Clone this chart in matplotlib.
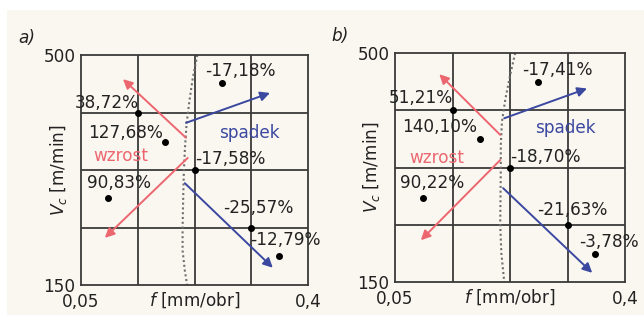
import matplotlib
matplotlib.use("Agg")
import matplotlib.pyplot as plt
from matplotlib.patches import Rectangle

# grid units: 4 columns (f 0,05 .. 0,4) x 4 rows (Vc 150 .. 500)
x_ticks = ["0,05", "0,4"]
y_ticks = ["150", "500"]

# panel a
a_px = [1.0, 1.48, 2.48, 2.0, 0.48, 3.0, 3.49]
a_py = [3.0, 2.49, 3.51, 2.0, 1.51, 1.0, 0.5]
a_labels = ["38,72%", "127,68%", "-17,18%", "-17,58%", "90,83%", "-25,57%", "-12,79%"]
a_curve_x = [2.05, 1.97, 1.91, 1.86, 1.83, 1.81, 1.80, 1.79, 1.79, 1.83, 1.87]
a_curve_y = [4.0, 3.6, 3.2, 2.8, 2.35, 1.9, 1.48, 1.0, 0.6, 0.25, 0.0]
a_red = [((1.85, 2.56), (0.74, 3.58)), ((1.88, 2.21), (0.42, 0.82))]
a_blue = [((1.85, 2.82), (3.33, 3.34)), ((1.83, 1.77), (3.38, 0.30))]

# panel b
b_px = [1.0, 1.48, 2.49, 2.0, 0.49, 3.0, 3.48]
b_py = [3.0, 2.5, 3.5, 2.0, 1.47, 1.0, 0.49]
b_labels = ["51,21%", "140,10%", "-17,41%", "-18,70%", "90,22%", "-21,63%", "-3,78%"]
b_curve_x = [2.09, 2.0, 1.92, 1.86, 1.84, 1.84, 1.83, 1.85, 1.9]
b_curve_y = [4.0, 3.6, 3.2, 2.8, 2.4, 2.0, 1.0, 0.5, 0.0]
b_red = [((1.83, 2.57), (0.77, 3.63)), ((1.83, 2.13), (0.45, 0.73))]
b_blue = [((1.90, 2.86), (3.34, 3.38)), ((1.88, 1.64), (3.43, 0.16))]

# label anchors (ha, x, y) per point, in grid units
a_lab_pos = [("right", 1.02, 3.17), ("left", 0.12, 2.64), ("left", 2.18, 3.72),
             ("left", 2.01, 2.19), ("left", 0.11, 1.77), ("left", 2.5, 1.34),
             ("left", 2.98, 0.78)]
b_lab_pos = [("right", 1.0, 3.21), ("left", 0.12, 2.71), ("left", 2.21, 3.70),
             ("left", 2.0, 2.18), ("left", 0.09, 1.73), ("left", 2.47, 1.26),
             ("left", 3.2, 0.70)]

BG = "#faf7f0"
RED = "#ec6670"
BLUE = "#3b48a0"
GRID = "#3a3a3a"
FS = 12.2

plt.rcParams["font.family"] = ["DejaVu Sans"]

fig = plt.figure(figsize=(6.44, 3.2), dpi=100, facecolor="white")
fig.patches.append(Rectangle((7 / 644, 5 / 320), 637 / 644, 305 / 320,
                             transform=fig.transFigure, facecolor=BG,
                             edgecolor="none", zorder=-10))


def panel(rect, tag, px, py, labels, lab_pos, cx, cy, red, blue, spad, wzr):
    ax = fig.add_axes(rect)
    ax.set_facecolor(BG)
    ax.set_xlim(0, 4)
    ax.set_ylim(0, 4)
    for v in [1, 2, 3]:
        ax.axvline(v, color=GRID, lw=1.3, zorder=1)
        ax.axhline(v, color=GRID, lw=1.3, zorder=1)
    for s in ax.spines.values():
        s.set_color(GRID)
        s.set_linewidth(1.3)
    ax.set_xticks([0, 4])
    ax.set_xticklabels(x_ticks, fontsize=FS, color="#222")
    ax.set_yticks([0, 4])
    ax.set_yticklabels(y_ticks, fontsize=FS, color="#222")
    ax.tick_params(length=0, pad=4)
    ax.tick_params(axis="x", pad=6)

    ax.plot(cx, cy, ls=(0, (1, 1.3)), color="#6e6e6e", lw=1.5, zorder=2, clip_on=False)

    for (s, e) in red:
        ax.annotate("", xy=e, xytext=s,
                    arrowprops=dict(arrowstyle="-|>", color=RED, lw=1.4,
                                    mutation_scale=14, shrinkA=0, shrinkB=0))
    for (s, e) in blue:
        ax.annotate("", xy=e, xytext=s,
                    arrowprops=dict(arrowstyle="-|>", color=BLUE, lw=1.4,
                                    mutation_scale=14, shrinkA=0, shrinkB=0))

    ax.scatter(px, py, s=16, color="black", zorder=5, clip_on=False)
    for lab, (ha, tx, ty) in zip(labels, lab_pos):
        ax.text(tx, ty, lab, ha=ha, va="center", fontsize=FS, color="#222",
                zorder=6, clip_on=False)

    ax.text(spad[0], spad[1], "spadek", color=BLUE, fontsize=FS, ha="left", va="center")
    ax.text(wzr[0], wzr[1], "wzrost", color=RED, fontsize=FS, ha="left", va="center")

    ax.text(0.5, -0.068, "$f$ [mm/obr]", transform=ax.transAxes, ha="center",
            va="center", fontsize=FS, color="#222")
    ax.text(-0.10, 0.5, "$V_c$ [m/min]", transform=ax.transAxes, ha="center",
            va="center", rotation=90, fontsize=FS, color="#222")
    ax.text(-0.24, 1.075, tag, transform=ax.transAxes, ha="center", va="center",
            fontsize=FS, style="italic", color="#222")
    return ax


panel([81 / 644, 35 / 320, 227 / 644, 230 / 320], "a)", a_px, a_py, a_labels,
      a_lab_pos, a_curve_x, a_curve_y, a_red, a_blue, (2.43, 2.64), (0.21, 2.24))
panel([395 / 644, 38 / 320, 230 / 644, 229 / 320], "b)", b_px, b_py, b_labels,
      b_lab_pos, b_curve_x, b_curve_y, b_red, b_blue, (2.43, 2.69), (0.24, 2.17))

fig.savefig("out.png", dpi=100, facecolor="white")
